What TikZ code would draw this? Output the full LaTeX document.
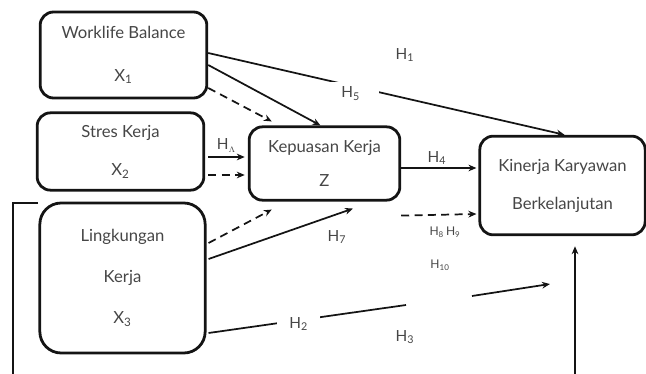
\documentclass[tikz,border=0pt]{standalone}
\usepackage{fontspec}
\setmainfont{Lato}
\usepackage{tikz}
\usetikzlibrary{
  arrows.meta,
  calc
}
\definecolor{boxink}{RGB}{20,20,20}
\definecolor{textgray}{RGB}{70,70,70}
\tikzset{
  var/.style={draw=boxink,line width=2.1pt,rounded corners=10pt,
    align=center,inner sep=0pt,text=textgray,
    font=\fontsize{12.5}{15}\selectfont},
  flow/.style={-{Stealth[length=6pt,width=5pt]},line width=1.3pt,draw=boxink},
  dflow/.style={flow,dash pattern=on 6pt off 4pt},
  plain/.style={line width=1.3pt,draw=boxink},
  hlab/.style={font=\fontsize{11.5}{13}\selectfont,text=textgray,inner sep=1pt},
  smalllab/.style={font=\fontsize{9}{11}\selectfont,text=textgray,inner sep=1pt}
}

\begin{document}
\begin{tikzpicture}[x=0.75pt,y=-0.75pt]
  \useasboundingbox (0,0) rectangle (646,374);
  % variables
  \node[var,minimum width=125pt,minimum height=64.5pt] (x1) at (123.5,55)
    {Worklife Balance\\[17pt]X\textsubscript{1}};
  \node[var,minimum width=125pt,minimum height=58pt] (x2) at (120.5,151.5)
    {Stres Kerja\\[13.5pt]X\textsubscript{2}};
  \node[var,rounded corners=16pt,minimum width=124pt,minimum height=112.5pt] (x3) at (122.5,278)
    {Lingkungan\\[16pt]Kerja\\[16pt]X\textsubscript{3}};
  \node[var,minimum width=113pt,minimum height=55pt] (z) at (324.5,163.5)
    {Kepuasan Kerja\\[10.5pt]Z};
  \node[var,minimum width=124pt,minimum height=74pt] (y) at (562.5,185.5)
    {Kinerja Karyawan\\[13.5pt]Berkelanjutan};
  % paths
  \draw[flow] ($(x1.east)+(0,-2)$) -- node[hlab,fill=white,pos=0.40,yshift=-6pt,inner xsep=14pt,inner ysep=4pt]{H\textsubscript{5}} ($(y.north)+(2,0)$);
  \draw[flow] ($(x1.east)+(0,10)$) -- ($(z.north)+(-4,0)$);
  \draw[dflow] ($(x1.east)+(0,33)$) -- ($(z.north west)+(24,-4)$);
  \draw[flow] ($(x2.east)+(3,5.5)$) -- node[hlab,above=2pt]{H$_{\scriptscriptstyle\Lambda}$} ($(z.west)+(-3,-6.5)$);
  \draw[dflow] ($(x2.east)+(3,23.5)$) -- ($(z.west)+(-3,11.5)$);
  \draw[dflow] ($(x3.east)+(2,-35)$) -- ($(z.south west)+(24,8)$);
  \draw[flow] ($(x3.east)+(2,-19)$) -- ($(z.south)+(28.5,7)$);
  \draw[flow] ($(z.east)+(0,4.5)$) -- ($(y.west)+(-2,-17.5)$);
  \draw[dflow] ($(z.south east)+(0,14)$) -- ($(y.west)+(-2,28.5)$);
  \coordinate (g1) at (406,305);
  \coordinate (g2) at (472,296);
  \coordinate (g3) at (550,284);
  \draw[plain] ($(x3.east)+(2,55)$) -- node[hlab,fill=white,pos=0.457,yshift=-3pt,inner xsep=9pt,inner ysep=5pt]{H\textsubscript{2}} (g1);
  \draw[flow] (g2) -- (g3);
  \coordinate (b1) at (38,203);
  \coordinate (b2) at (13,203);
  \coordinate (b3) at (13,374);
  \coordinate (b4) at (575,374);
  \draw[plain] (b1) -- (b2) -- (b3);
  \draw[flow] (b4) -- ($(y.south)+(12.5,10)$);
  % labels
  \node[hlab] (h1) at (405,55) {H\textsubscript{1}};
  \node[hlab] (h4) at (437,158) {H\textsubscript{4}};
  \node[hlab] (h7) at (337,237) {H\textsubscript{7}};
  \node[smalllab] (h89) at (445,232) {H\textsubscript{8}\,H\textsubscript{9}};
  \node[smalllab] (h10) at (440,265) {H\textsubscript{10}};
  \node[hlab] (h3) at (405,337) {H\textsubscript{3}};
\end{tikzpicture}
\end{document}
